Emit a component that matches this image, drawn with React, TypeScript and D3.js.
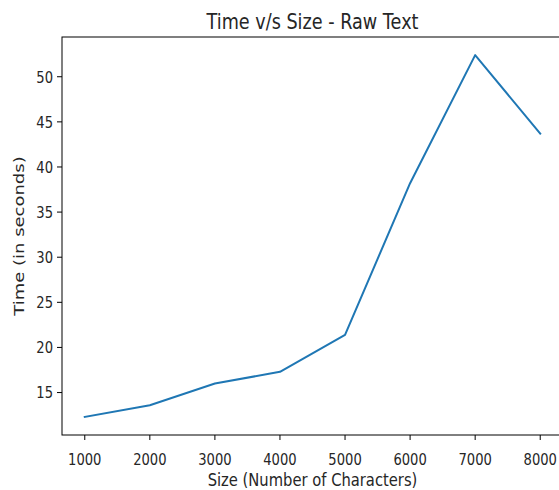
import React from 'react';
import * as d3 from 'd3';

// data
const sizes = [1000, 2000, 3000, 4000, 5000, 6000, 7000, 8000];
const times = [12.3, 13.6, 16.0, 17.3, 21.4, 38.2, 52.4, 43.7];
const xTickValues = [1000, 2000, 3000, 4000, 5000, 6000, 7000, 8000];
const yTickValues = [15, 20, 25, 30, 35, 40, 45, 50];

const title = 'Time v/s Size - Raw Text';
const xLabel = 'Size (Number of Characters)';
const yLabel = 'Time (in seconds)';

const font = '"DejaVu Sans", sans-serif';
const textColor = '#262626';
// the source picture is squeezed sideways, text included
const sx = 0.82;

export default function App() {
  const width = 559;
  const height = 490;
  const margin = { top: 37, right: -4, bottom: 55, left: 62 };
  const innerWidth = width - margin.left - margin.right;
  const innerHeight = height - margin.top - margin.bottom;

  // matplotlib-like 5% padding
  const [xmin, xmax] = d3.extent(sizes) as [number, number];
  const [ymin, ymax] = d3.extent(times) as [number, number];
  const xpad = (xmax - xmin) * 0.05;
  const ypad = (ymax - ymin) * 0.05;

  const xScale = d3.scaleLinear().domain([xmin - xpad, xmax + xpad]).range([0, innerWidth]);
  const yScale = d3.scaleLinear().domain([ymin - ypad, ymax + ypad]).range([innerHeight, 0]);

  const line = d3
    .line<number>()
    .x((d, i) => xScale(sizes[i]))
    .y(d => yScale(d))(times);

  const xTicks = xTickValues.map(v => (
    <g key={v} transform={`translate(${xScale(v)},${innerHeight})`}>
      <line y2={5} stroke="#000" strokeWidth={1} />
      <text transform={`translate(0,29.5) scale(${sx},1)`} textAnchor="middle" fontSize={16} fill={textColor}>
        {v}
      </text>
    </g>
  ));

  const yTicks = yTickValues.map(v => (
    <g key={v} transform={`translate(0,${yScale(v)})`}>
      <line x2={-5} stroke="#000" strokeWidth={1} />
      <text transform={`translate(-9,0) scale(${sx},1)`} dy="0.36em" textAnchor="end" fontSize={16} fill={textColor}>
        {v}
      </text>
    </g>
  ));

  return (
    <svg
      width={width}
      height={height}
      style={{ position: 'absolute', left: 0, top: 0, background: '#fff', fontFamily: font }}
    >
      <text
        transform={`translate(${margin.left + innerWidth / 2},29) scale(${sx},1)`}
        textAnchor="middle"
        fontSize={21.5}
        fill={textColor}
      >
        {title}
      </text>
      <g transform={`translate(${margin.left},${margin.top})`}>
        <path d={line ?? ''} fill="none" stroke="#1f77b4" strokeWidth={2} strokeLinejoin="round" strokeLinecap="square" />
        {xTicks}
        {yTicks}
        <rect x={0} y={0} width={innerWidth} height={innerHeight} fill="none" stroke="#000" strokeWidth={1} />
        <text
          transform={`translate(${innerWidth / 2},${innerHeight + 51}) scale(${sx},1)`}
          textAnchor="middle"
          fontSize={18}
          fill={textColor}
        >
          {xLabel}
        </text>
        <text
          transform={`translate(${-margin.left + 24},${innerHeight / 2}) scale(${sx},1) rotate(-90)`}
          textAnchor="middle"
          fontSize={18}
          fill={textColor}
        >
          {yLabel}
        </text>
      </g>
    </svg>
  );
}
